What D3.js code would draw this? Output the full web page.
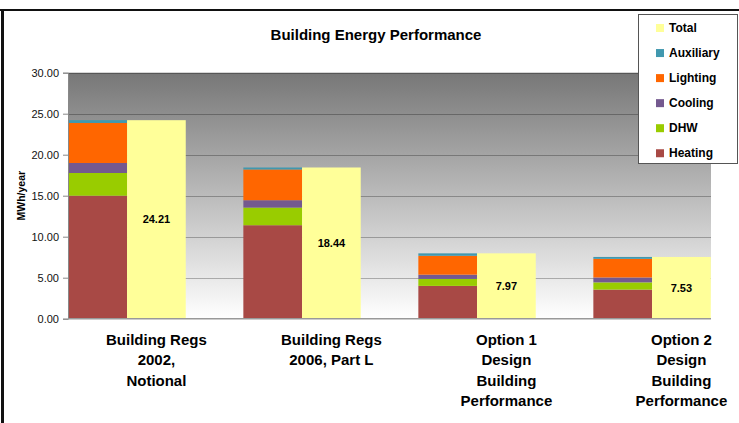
<!DOCTYPE html>
<html>
<head>
<meta charset="utf-8">
<script src="https://cdn.jsdelivr.net/npm/d3@7"></script>
<style>
  body { margin: 0; background: #fff; }
  text { font-family: "Liberation Sans", Arial, sans-serif; }
</style>
</head>
<body>
<div id="chart"></div>
<script>
// data (MWh/year)
var categories = [
  ["Building Regs", "2002,", "Notional"],
  ["Building Regs", "2006, Part L"],
  ["Option 1", "Design", "Building", "Performance"],
  ["Option 2", "Design", "Building", "Performance"]
];
var heating = [15.00, 11.40, 4.00, 3.55];
var dhw = [2.77, 2.15, 0.85, 0.88];
var cooling = [1.22, 0.90, 0.52, 0.60];
var lighting = [4.88, 3.75, 2.30, 2.27];
var auxiliary = [0.34, 0.24, 0.30, 0.23];
var totals = [24.21, 18.44, 7.97, 7.53];
var yTicks = [0, 5, 10, 15, 20, 25, 30];

var seriesNames = ["Heating", "DHW", "Cooling", "Lighting", "Auxiliary"];
var colors = {
  Heating: "#a84945", DHW: "#99cc00", Cooling: "#74598f",
  Lighting: "#ff6600", Auxiliary: "#4198af", Total: "#ffff99"
};

var W = 739, H = 423;
var plot = { left: 68, right: 711, top: 72.7, bottom: 318.7 };
var barW = 58.7;

var svg = d3.select("#chart").append("svg")
  .attr("width", W).attr("height", H);

// background gradient of the plot area
var grad = svg.append("defs").append("linearGradient")
  .attr("id", "bg").attr("x1", 0).attr("y1", 0).attr("x2", 0).attr("y2", 1);
grad.append("stop").attr("offset", "0%").attr("stop-color", "#777777");
grad.append("stop").attr("offset", "100%").attr("stop-color", "#ffffff");

// chart outer border (left + top)
svg.append("line").attr("x1", 0).attr("x2", W).attr("y1", 10).attr("y2", 10)
  .attr("stroke", "#111").attr("stroke-width", 2);
svg.append("line").attr("x1", 2.5).attr("x2", 2.5).attr("y1", 9).attr("y2", H)
  .attr("stroke", "#111").attr("stroke-width", 3);

svg.append("rect")
  .attr("x", plot.left).attr("y", plot.top)
  .attr("width", plot.right - plot.left).attr("height", plot.bottom - plot.top)
  .attr("fill", "url(#bg)");

// scales
var x = d3.scalePoint()
  .domain(d3.range(categories.length))
  .range([156.4, 156.4 + 175 * (categories.length - 1)]);
var y = d3.scaleLinear().domain([0, 30]).range([plot.bottom, plot.top]);

// gridlines
svg.append("g").selectAll("line")
  .data(yTicks.filter(function (d) { return d > 0; }))
  .enter().append("line")
  .attr("x1", plot.left).attr("x2", plot.right)
  .attr("y1", function (d) { return Math.round(y(d)) + 0.5; })
  .attr("y2", function (d) { return Math.round(y(d)) + 0.5; })
  .attr("stroke", "rgba(0,0,0,0.27)");

// stacked bars
var rows = categories.map(function (c, i) {
  return { i: i, Heating: heating[i], DHW: dhw[i], Cooling: cooling[i],
    Lighting: lighting[i], Auxiliary: auxiliary[i] };
});
var stack = d3.stack().keys(seriesNames)(rows);

svg.append("g").selectAll("g")
  .data(stack)
  .enter().append("g")
  .attr("fill", function (d) { return colors[d.key]; })
  .selectAll("rect")
  .data(function (d) { return d; })
  .enter().append("rect")
  .attr("x", function (d) { return x(d.data.i) - barW / 2 - barW; })
  .attr("y", function (d) { return y(d[1]); })
  .attr("width", barW)
  .attr("height", function (d) { return y(d[0]) - y(d[1]); });

// total bars
svg.append("g").selectAll("rect")
  .data(totals)
  .enter().append("rect")
  .attr("x", function (d, i) { return x(i) - barW / 2; })
  .attr("y", function (d) { return y(d); })
  .attr("width", barW)
  .attr("height", function (d) { return y(0) - y(d); })
  .attr("fill", colors.Total);

svg.append("g").selectAll("text")
  .data(totals)
  .enter().append("text")
  .attr("x", function (d, i) { return x(i); })
  .attr("y", function (d) { return (y(0) + y(d)) / 2; })
  .attr("dy", "0.35em")
  .attr("text-anchor", "middle")
  .style("font-size", "11px").style("font-weight", "bold")
  .text(function (d) { return d.toFixed(2); });

// y axis
var yAxis = svg.append("g")
  .attr("transform", "translate(" + plot.left + ",0)")
  .call(d3.axisLeft(y).tickValues(yTicks).tickFormat(d3.format(".2f")).tickSize(5).tickPadding(4));
yAxis.select(".domain").attr("stroke", "#888");
yAxis.selectAll(".tick line").attr("stroke", "#888");
yAxis.selectAll("text").style("font-size", "11px").attr("fill", "#111")
  .style("font-family", "'Liberation Sans', Arial, sans-serif");

// baseline
svg.append("line")
  .attr("x1", plot.left).attr("x2", plot.right)
  .attr("y1", y(0)).attr("y2", y(0))
  .attr("stroke", "#999").attr("stroke-width", 1.5);

svg.append("text")
  .attr("transform", "translate(21," + (plot.top + plot.bottom) / 2 + ") rotate(-90)")
  .attr("text-anchor", "middle")
  .attr("dy", "0.35em")
  .style("font-size", "10.5px").style("font-weight", "bold")
  .text("MWh/year");

// category labels
var labels = svg.append("g").selectAll("text")
  .data(categories)
  .enter().append("text")
  .attr("x", function (d, i) { return x(i); })
  .attr("y", 345)
  .attr("text-anchor", "middle")
  .style("font-size", "15px").style("font-weight", "bold");
labels.selectAll("tspan")
  .data(function (d, i) { return d.map(function (t) { return { t: t, i: i }; }); })
  .enter().append("tspan")
  .attr("x", function (d) { return x(d.i); })
  .attr("dy", function (d, j) { return j === 0 ? 0 : 20.4; })
  .text(function (d) { return d.t; });

// title
svg.append("text")
  .attr("x", 376).attr("y", 40)
  .attr("text-anchor", "middle")
  .style("font-size", "15px").style("font-weight", "bold")
  .text("Building Energy Performance");

// legend
var legendItems = ["Total", "Auxiliary", "Lighting", "Cooling", "DHW", "Heating"];
svg.append("rect")
  .attr("x", 638.5).attr("y", 14.5).attr("width", 99).attr("height", 149)
  .attr("fill", "#fff").attr("stroke", "#555");
var lg = svg.append("g").selectAll("g")
  .data(legendItems)
  .enter().append("g")
  .attr("transform", function (d, i) { return "translate(656," + (28 + i * 25.05) + ")"; });
lg.append("rect")
  .attr("x", 0).attr("y", -4).attr("width", 8).attr("height", 8)
  .attr("fill", function (d) { return colors[d]; });
lg.append("text")
  .attr("x", 13).attr("dy", "0.35em")
  .style("font-size", "12px").style("font-weight", "bold")
  .text(function (d) { return d; });
</script>
</body>
</html>
